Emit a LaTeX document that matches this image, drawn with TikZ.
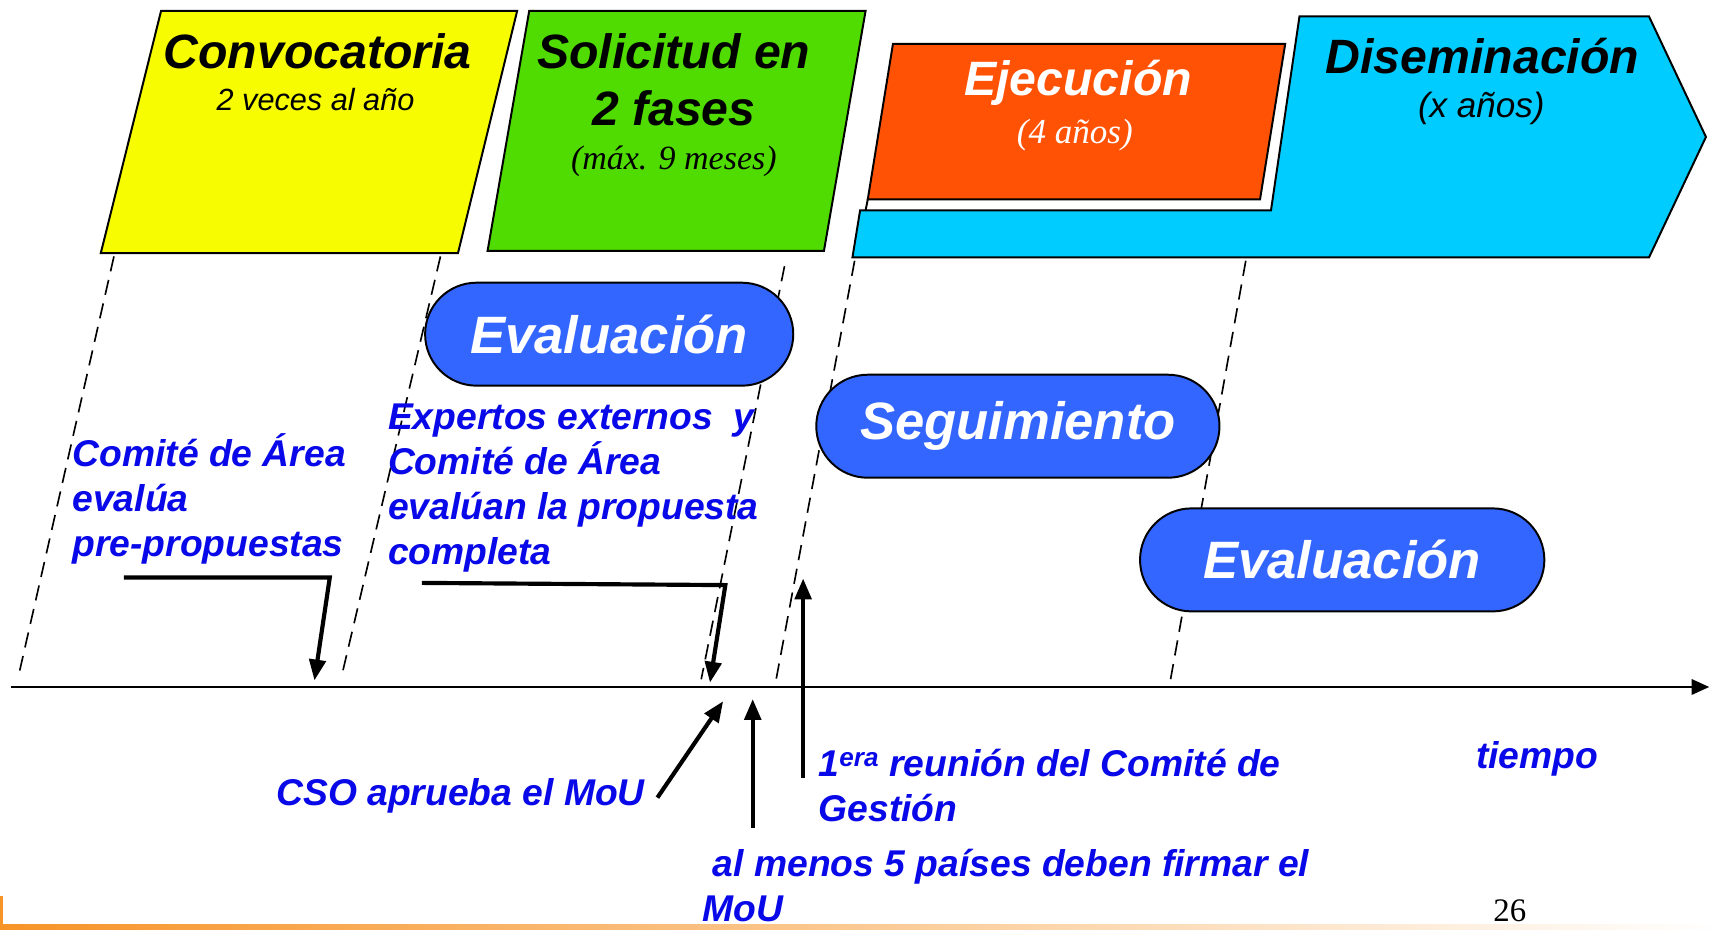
\documentclass[tikz,border=0pt]{standalone}
\usepackage{fontspec}
\setmainfont{Liberation Sans}
\newfontfamily\tnr{Liberation Serif}
\usetikzlibrary{arrows.meta}
\definecolor{cyel}{RGB}{248,252,0}
\definecolor{cgrn}{RGB}{80,220,0}
\definecolor{corg}{RGB}{255,82,5}
\definecolor{ccyan}{RGB}{0,204,255}
\definecolor{coval}{RGB}{51,102,255}
\definecolor{cblue}{RGB}{8,8,232}
\definecolor{cline}{RGB}{247,148,40}
\tikzset{
  phase/.style={draw=black, line width=1.8pt, line join=miter},
  oval/.style={draw=black, line width=1.8pt, fill=coval, rounded corners=47pt,
    minimum height=94pt, text=white, inner sep=0pt,
    font=\bfseries\itshape\fontsize{48}{56}\selectfont},
  guide/.style={draw=black, line width=1.5pt, dash pattern=on 14pt off 8pt},
  arr/.style={draw=black, line width=3.8pt, -{Triangle[length=19pt,width=15pt]}},
  lbl/.style={text=cblue, align=left, inner sep=0pt,
    font=\bfseries\itshape\fontsize{34}{41}\selectfont},
  ttl/.style={inner sep=0pt, font=\bfseries\itshape\fontsize{44}{50}\selectfont},
}
\begin{document}
\begin{tikzpicture}[x=1pt,y=-1pt]
\useasboundingbox (0,0) rectangle (1568,848);
% phase shapes
\fill[white] (0,0) rectangle (1568,848);
\filldraw[phase, fill=cyel] (147,10) -- (472,10) -- (418,231) -- (92,231) -- cycle;
\filldraw[phase, fill=cgrn] (483,10) -- (790,10) -- (752,229) -- (445,229) -- cycle;
\filldraw[phase, fill=ccyan] (778,235) -- (785,192) -- (1160,192) -- (1186,15) -- (1505,15) -- (1557,125) -- (1505,235) -- cycle;
\filldraw[phase, fill=corg] (792,182) -- (815,40) -- (1173,40) -- (1150,182) -- cycle;
\draw[phase] (792,182) -- (790,192);
% titles
\node[ttl] (t1) at (290,47) {Convocatoria};
\node[inner sep=0pt, font=\itshape\fontsize{28}{32}\selectfont] (t1s) at (288,91) {2 veces al año};
\node[ttl, align=center, font=\bfseries\itshape\fontsize{44}{52}\selectfont] (t2) at (615,73) {Solicitud en\\2 fases};
\node[inner sep=0pt, font=\tnr\itshape\fontsize{31}{36}\selectfont] (t2s) at (615,147) {(máx. 9 meses)};
\node[ttl, text=white] (t3) at (984,76) {Ejecución};
\node[inner sep=0pt, text=white, font=\tnr\itshape\fontsize{32}{36}\selectfont] (t3s) at (981,123) {(4 años)};
\node[ttl] (t4) at (1353,51) {Diseminación};
\node[inner sep=0pt, font=\itshape\fontsize{32}{36}\selectfont] (t4s) at (1352,99) {(x años)};
% dashed guides
\coordinate (g1a) at (104,234); \coordinate (g1b) at (18,612);
\coordinate (g2a) at (402,234); \coordinate (g2b) at (313,612);
\coordinate (g3a) at (716,243); \coordinate (g3b) at (640,620);
\coordinate (g4a) at (780,238); \coordinate (g4b) at (708,622);
\coordinate (g5a) at (1137,238); \coordinate (g5b) at (1068,622);
\draw[guide] (g1a) -- (g1b);
\draw[guide] (g2a) -- (g2b);
\draw[guide] (g3a) -- (g3b);
\draw[guide] (g4a) -- (g4b);
\draw[guide] (g5a) -- (g5b);
% ovals
\node[oval, minimum width=336pt] (ev1) at (556,305) {Evaluación};
\node[oval, minimum width=368pt] (seg) at (929,389) {Seguimiento};
\node[oval, minimum width=369pt] (ev2) at (1225,511) {Evaluación};
% time axis
\coordinate (ax0) at (10,627);
\coordinate (ax1) at (1560,627);
\draw[line width=2pt, -{Triangle[length=16pt,width=14pt]}] (ax0) -- (ax1);
% labels (base anchor = baseline of last line)
\node[lbl, anchor=base west] (l1) at (66,508) {Comité de Área\\evalúa\\pre-propuestas};
\node[lbl, anchor=base west] (l2) at (354,515) {Expertos externos\ \ y\\Comité de Área\\evalúan la propuesta\\completa};
\node[lbl, anchor=base west] (l3) at (252,735) {CSO aprueba el MoU};
\node[lbl, anchor=base west] (l4) at (747,750) {1\textsuperscript{era} reunión del Comité de\\Gestión};
\node[lbl, anchor=base west] (l5) at (641,841) {\ al menos 5 países deben firmar el\\MoU};
\node[lbl, anchor=base west] (l6) at (1347,701) {tiempo};
\node[inner sep=0pt, font=\tnr\fontsize{30}{34}\selectfont] (pg) at (1378,831) {26};
% arrows
\coordinate (a1s) at (113,527); \coordinate (a1c) at (301,527); \coordinate (a1e) at (287,621);
\draw[arr] (a1s) -- (a1c) -- (a1e);
\coordinate (a2s) at (385,532); \coordinate (a2c) at (662,534); \coordinate (a2e) at (648,623);
\draw[arr] (a2s) -- (a2c) -- (a2e);
\coordinate (a3s) at (600,728); \coordinate (a3e) at (660,640);
\draw[arr] (a3s) -- (a3e);
\coordinate (a4s) at (687,756); \coordinate (a4e) at (687,638);
\draw[arr] (a4s) -- (a4e);
\coordinate (a5s) at (733,710); \coordinate (a5e) at (733,528);
\draw[arr] (a5s) -- (a5e);
% footer line
\shade[left color=cline, right color=white] (0,844) rectangle (1568,848);
\fill[cline] (0,818) rectangle (3,848);
\end{tikzpicture}
\end{document}
